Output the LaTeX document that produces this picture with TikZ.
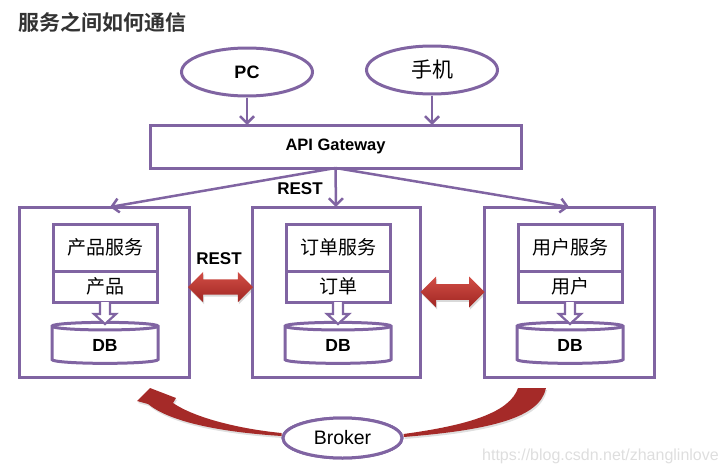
\documentclass[tikz,border=0pt]{standalone}
\usepackage{fontspec}
\setmainfont{Liberation Sans}
\newfontfamily\cjk{Noto Sans CJK SC}[BoldFont={Noto Sans CJK SC Bold}]
\usepackage{tikz}
\usetikzlibrary{shapes.geometric,shapes.arrows,arrows.meta,shadows}

\definecolor{svcpurple}{RGB}{128,100,162}
\definecolor{restlight}{RGB}{210,78,70}
\definecolor{restdark}{RGB}{160,38,34}
\definecolor{busred}{RGB}{165,42,40}
\definecolor{titlegray}{RGB}{51,51,51}
\definecolor{markgray}{RGB}{222,222,222}

\tikzset{
  client/.style={ellipse,draw=svcpurple,line width=3pt,fill=white,
    minimum width=131pt,minimum height=48pt,inner sep=0pt,
    font=\fontsize{18}{21}\selectfont\bfseries},
  plainbox/.style={rectangle,draw=svcpurple,line width=3pt,outer sep=0pt,inner sep=0pt},
  svclabel/.style={plainbox,minimum width=104pt,font=\cjk\fontsize{19}{22}\selectfont},
  dbstore/.style={cylinder,shape border rotate=90,aspect=0.3,draw=svcpurple,
    line width=3pt,fill=white,minimum width=106pt,minimum height=41pt,inner sep=0pt,
    font=\fontsize{17.5}{20}\selectfont\bfseries},
  flow/.style={draw=svcpurple,line width=2.5pt,-{Straight Barb[length=7pt,width=14pt]}},
  feed/.style={draw=svcpurple,line width=2.2pt,fill=white,line join=miter},
  rest/.style={double arrow,double arrow head extend=7.5pt,inner xsep=0pt,inner ysep=7.5pt,
    top color=restlight,bottom color=restdark,
    drop shadow={shadow xshift=1pt,shadow yshift=-2pt,opacity=0.3}},
  busarc/.style={fill=busred,drop shadow={shadow xshift=1pt,shadow yshift=-2pt,opacity=0.25}},
  tag/.style={font=\fontsize{17}{20}\selectfont\bfseries}
}

\begin{document}
\begin{tikzpicture}[x=1pt,y=-1pt]
\useasboundingbox (0,0) rectangle (726,474);

\node[anchor=west,text=titlegray,inner sep=0pt,font=\cjk\bfseries\fontsize{21}{24}\selectfont] (title) at (18,22.5) {服务之间如何通信};

% clients and gateway
\node[client] (pc) at (247,72) {PC};
\node[client,font=\cjk\fontsize{21}{24}\selectfont] (phone) at (432,70) {手机};
\node[plainbox,minimum width=371pt,minimum height=43pt,font=\fontsize{16.5}{19}\selectfont\bfseries] (gw) at (335.5,146.5) {API Gateway};

\draw[flow] (pc) -- (pc |- gw.north);
\draw[flow] (phone) -- (phone |- gw.north);

% three services
\node[plainbox,minimum width=170pt,minimum height=170pt] (boxA) at (104,292) {};
\node[plainbox,minimum width=168pt,minimum height=170pt] (boxB) at (336,292) {};
\node[plainbox,minimum width=170pt,minimum height=170pt] (boxC) at (569,292) {};

\node[svclabel,minimum height=47pt] (svcA) at (105,247.5) {产品服务};
\node[svclabel,minimum height=31pt] (dataA) at (105,286.5) {产品};
\node[dbstore] (dbA) at (105,345.5) {DB};

\node[svclabel,minimum height=47pt] (svcB) at (338,247.5) {订单服务};
\node[svclabel,minimum height=31pt] (dataB) at (338,286.5) {订单};
\node[dbstore] (dbB) at (338,345.5) {DB};

\node[svclabel,minimum height=47pt] (svcC) at (570,247.5) {用户服务};
\node[svclabel,minimum height=31pt] (dataC) at (570,286.5) {用户};
\node[dbstore] (dbC) at (570,345.5) {DB};

\draw[feed] (dataA.south) ++(-5,0) -- ++(0,12) -- ++(-6,0) -- ++(11,10) -- ++(11,-10) -- ++(-6,0) -- ++(0,-12);
\draw[feed] (dataB.south) ++(-5,0) -- ++(0,12) -- ++(-6,0) -- ++(11,10) -- ++(11,-10) -- ++(-6,0) -- ++(0,-12);
\draw[feed] (dataC.south) ++(-5,0) -- ++(0,12) -- ++(-6,0) -- ++(11,10) -- ++(11,-10) -- ++(-6,0) -- ++(0,-12);

\draw[flow] (gw.south) -- ([xshift=6pt]boxA.north);
\draw[flow] (gw.south) -- (boxB.north);
\draw[flow] (gw.south) -- (boxC.north);
\node[tag] (restTop) at (300,189) {REST};

% REST calls between services
\node[rest,minimum height=65pt,minimum width=30pt] (restA) at (220.5,287) {};
\node[tag] (restLbl) at (219,259) {REST};
\node[rest,minimum height=64pt,minimum width=31pt] (restB) at (452.5,292) {};

% broker
\node[ellipse,draw=svcpurple,line width=3pt,fill=white,minimum width=119pt,minimum height=40pt,
  inner sep=0pt,font=\fontsize{19.5}{22}\selectfont] (broker) at (342.5,438) {Broker};

\fill[busarc] ([yshift=5pt]broker.west) .. controls (240,429) and (195,418) .. (173,403)
  -- (176,398) -- (150,388) -- (137,401) -- (148,404)
  .. controls (170,422) and (220,432) .. ([yshift=2pt]broker.west) -- cycle;
\fill[busarc] ([yshift=4pt]broker.east) .. controls (470,425) and (510,412) .. (518,388)
  -- (546,388) .. controls (540,418) and (490,430) .. ([yshift=1pt]broker.east) -- cycle;
\node[ellipse,draw=svcpurple,line width=3pt,fill=white,minimum width=119pt,minimum height=40pt,
  inner sep=0pt,font=\fontsize{19.5}{22}\selectfont] at (broker) {Broker};

\node[anchor=west,inner sep=0pt,text=markgray,font=\fontsize{16}{19}\selectfont] (mark) at (482,456) {https://blog.csdn.net/zhanglinlove};
\end{tikzpicture}
\end{document}
